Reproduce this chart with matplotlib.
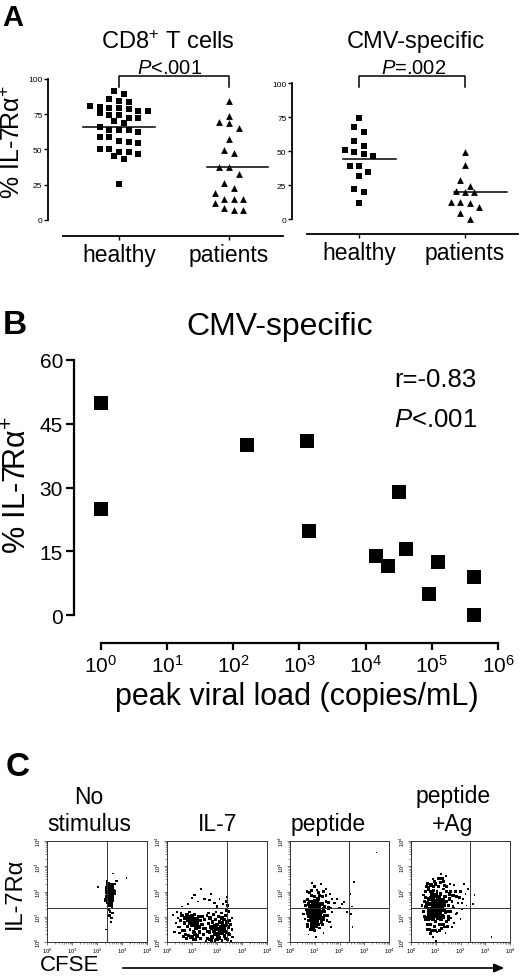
import numpy as np
import matplotlib
matplotlib.use("Agg")
import matplotlib.pyplot as plt
from matplotlib.ticker import LogFormatterMathtext, LogLocator, NullFormatter, FixedLocator

plt.rcParams['font.family'] = ['Liberation Sans', 'DejaVu Sans']
plt.rcParams['mathtext.fontset'] = 'custom'
plt.rcParams['mathtext.rm'] = 'Liberation Sans'
plt.rcParams['mathtext.it'] = 'Liberation Sans:italic'
plt.rcParams['mathtext.bf'] = 'Liberation Sans:bold'
plt.rcParams['mathtext.default'] = 'regular'

# ------------------------------------------------------------------ data
groups = ["healthy", "patients"]
a_yticks = [0, 25, 50, 75, 100]

cd8_healthy = [91.7, 89.4, 85.6, 84.6, 83.7, 80.4, 79.4, 79.4, 80.9, 77.5, 78.5,
               75.7, 74.7, 72.0, 77.0, 74.5, 72.3, 70.4, 68.8, 64.0, 64.0, 65.8,
               64.0, 62.2, 59.1, 54.8, 56.2, 58.6, 55.1, 50.4, 48.2, 50.1, 46.5,
               48.2, 45.6, 43.3, 25.5]
cd8_patients = [84.1, 73.9, 69.2, 68.7, 64.9, 57.8, 47.6, 49.5, 37.4, 37.4, 32.9,
                26.0, 22.5, 19.4, 15.2, 15.2, 15.2, 11.8, 8.5, 7.3, 7.3]
cd8_medians = [66.2, 37.9]
cd8_p = "$\\mathit{P}$<.001"

cmv_healthy = [74.2, 68.0, 63.9, 57.0, 54.0, 50.9, 49.6, 47.7, 46.7, 39.3, 38.8,
               34.9, 31.9, 22.1, 19.7, 11.8]
cmv_patients = [49.6, 39.8, 28.7, 24.6, 20.4, 20.1, 20.1, 12.8, 11.8, 12.3, 8.6,
                4.4, 0.0]
cmv_medians = [44.2, 20.1]
cmv_p = "$\\mathit{P}$=.002"

viral_load = [1, 1, 163, 1318, 1410, 14100, 21900, 32000, 40500, 92000, 125000,
              428000, 428000]
il7ra_cmv = [49.9, 24.9, 40.0, 40.9, 19.8, 14.0, 11.6, 29.0, 15.5, 4.9, 12.4,
             9.0, 0.0]
b_yticks = [0, 15, 30, 45, 60]
b_xticks = [1e0, 1e1, 1e2, 1e3, 1e4, 1e5, 1e6]
b_stats = ["r=-0.83", "$\\mathit{P}$<.001"]

# panel C: events (log10 units: CFSE, IL-7Ra)
c_titles = ["No\nstimulus", "IL-7", "peptide", "peptide\n+Ag"]
c_gate_cfse = 2.4
c_gate_il7 = 1.34
c_nostim_x = [2.45, 2.55, 2.50, 2.60, 2.42, 2.52, 2.58, 2.47, 2.55, 2.62, 2.40, 2.50,
              2.57, 2.45, 2.53, 2.60, 2.48, 2.56, 2.42, 2.52, 2.46, 2.58, 2.50, 2.44,
              2.55, 2.48, 2.60, 2.45, 2.52, 2.62, 2.50, 2.58, 2.55, 2.35, 2.05, 2.65,
              3.18, 2.78, 2.70, 2.40, 2.68, 2.38, 2.50, 2.53, 2.47, 2.57, 2.51, 2.49]
c_nostim_y = [2.30, 2.25, 2.20, 2.18, 2.12, 2.10, 2.08, 2.05, 2.02, 2.00, 1.98, 1.95,
              1.92, 1.90, 1.88, 1.86, 1.82, 1.80, 1.78, 1.75, 1.70, 1.68, 1.62, 1.58,
              1.52, 1.45, 1.40, 1.30, 1.22, 1.15, 1.05, 0.95, 0.80, 0.50, 2.17, 2.72,
              2.53, 2.43, 2.30, 2.40, 1.95, 1.65, 1.97, 2.06, 1.85, 1.99, 1.91, 2.15]
c_il7_x = [0.35, 0.45, 0.50, 0.55, 0.60, 0.62, 0.70, 0.72, 0.75, 0.80, 0.82, 0.85,
           0.88, 0.90, 0.92, 0.95, 0.97, 1.00, 1.00, 1.02, 1.05, 1.08, 1.10, 1.12,
           1.15, 1.18, 1.20, 1.22, 1.25, 1.28, 1.30, 1.32,
           1.40, 1.45, 1.50, 1.55, 1.60, 1.62, 1.65, 1.70, 1.72, 1.75, 1.80, 1.82,
           1.85, 1.88, 1.90, 1.92, 1.95, 1.98, 2.00, 2.02, 2.05, 2.08, 2.10, 2.12,
           2.15, 2.18, 2.20, 2.22, 2.25, 2.28, 2.30, 2.32, 2.35, 2.38, 2.40, 2.42,
           2.45, 2.48, 2.50, 2.55, 2.60, 2.62,
           2.40, 2.42, 2.38, 2.41, 2.39,
           1.00, 1.10, 1.25, 1.35, 1.50, 1.70, 1.75, 1.90, 2.10, 2.25, 0.85, 0.60,
           2.00, 0.40, 0.30, 0.25, 0.95, 1.05, 0.78, 1.15, 2.2, 2.05, 1.78, 1.95,
           0.50, 0.65, 0.85, 1.00, 1.15, 1.35, 1.45, 1.55, 1.70, 1.80, 1.90, 2.00,
           2.10, 2.30, 2.45, 2.55, 2.50, 2.20, 1.95, 1.65, 1.40, 1.10, 0.70, 0.55,
           0.90, 2.60, 2.35, 1.60, 1.25, 0.45]
c_il7_y = [0.75, 0.95, 0.60, 0.85, 1.05, 0.45, 0.75, 0.95, 0.30, 1.10, 0.60, 0.85,
           0.98, 0.75, 0.50, 0.90, 1.05, 0.80, 0.65, 0.95, 0.40, 0.85, 1.10, 0.70,
           0.55, 0.90, 0.25, 0.75, 1.00, 0.60, 0.40, 0.85,
           0.70, 0.30, 0.90, 0.55, 1.05, 0.15, 0.75, 0.40, 0.95, 0.60, 0.20, 0.80,
           1.10, 0.45, 0.65, 0.05, 0.90, 0.30, 0.70, 0.50, 1.00, 0.15, 0.80, 0.35,
           0.60, 1.15, 0.05, 0.75, 0.45, 0.90, 0.25, 0.65, 1.05, 0.40, 0.80, 0.10,
           0.60, 1.20, 0.30, 0.70, 0.50, 0.20,
           1.30, 1.45, 1.60, 1.80, 1.25,
           1.75, 1.85, 1.60, 2.10, 1.70, 1.65, 1.90, 1.55, 1.70, 1.50, 1.50, 1.40,
           1.40, 1.20, 0.40, 1.05, 0.20, 0.10, 0.15, 0.30, 0.35, 0.25, 0.05, 0.55,
           0.35, 0.20, 0.25, 0.20, 0.10, 0.15, 0.55, 0.05, 0.10, 0.55, 0.35, 0.10,
           0.45, 0.55, 0.35, 0.05, 0.85, 0.95, 1.20, 1.15, 1.00, 0.35, 0.45, 1.15,
           1.20, 0.95, 0.15, 0.40, 0.85, 0.60]
c_pep_x = [0.85, 0.90, 0.95, 1.00, 1.00, 1.05, 1.05, 1.10, 0.90, 0.95, 1.10, 1.15,
           0.80, 0.88, 1.20, 1.00, 0.92, 1.08, 1.12, 0.98, 1.20, 1.25, 0.75, 0.78,
           0.65, 0.60, 0.70, 0.72, 0.68, 0.85, 1.00, 1.15, 1.30, 1.35, 1.40, 1.30,
           1.20, 1.00, 0.85, 0.75, 1.45, 1.55, 1.60, 1.70, 1.50, 1.80, 1.90, 2.00,
           2.10, 2.20, 1.65, 1.45, 1.25, 0.90, 0.55, 0.60, 1.05, 1.35, 2.30,
           0.93, 1.03, 0.83, 1.13, 0.97, 1.07, 0.87, 1.17, 1.02, 0.94,
           0.72, 0.80, 0.85, 0.95, 1.05, 1.15, 1.25, 1.30, 1.35, 1.40, 1.50, 1.55,
           1.60, 1.45, 1.20, 0.70, 0.75, 0.82, 1.18, 1.28, 1.10, 0.90, 1.00, 1.40,
           1.65, 0.62, 0.80, 1.10, 1.35, 1.70,
           2.45, 2.58, 3.50, 2.52, 2.45, 2.50]
c_pep_y = [1.00, 1.20, 0.90, 1.10, 1.30, 1.00, 1.45, 1.20, 1.40, 1.60, 0.85, 1.35,
           1.25, 0.80, 1.10, 0.75, 1.05, 1.55, 1.70, 1.80, 1.50, 0.95, 1.50, 1.05,
           1.30, 0.90, 0.70, 1.70, 2.00, 2.05, 2.20, 1.95, 1.80, 1.30, 1.05, 0.70,
           0.55, 0.45, 0.50, 0.30, 1.60, 1.35, 1.90, 1.20, 0.85, 1.55, 1.70, 1.35,
           1.50, 1.60, 0.60, 2.10, 2.30, 2.35, 1.10, 1.60, 0.20, 0.35, 1.20,
           1.15, 1.25, 1.15, 1.05, 1.35, 0.95, 0.95, 1.25, 1.65, 0.65,
           0.60, 1.60, 1.85, 0.55, 0.65, 0.70, 1.20, 1.50, 0.90, 1.40, 1.05, 1.55,
           0.80, 1.85, 1.85, 1.15, 0.85, 1.40, 0.95, 0.80, 1.45, 0.65, 1.50, 1.20,
           1.35, 1.45, 1.95, 2.05, 2.00, 1.70,
           1.90, 2.37, 3.55, 0.60, 1.12, 1.40]
c_pag_x = [0.70, 0.75, 0.72, 0.80, 0.80, 0.82, 0.85, 0.88, 0.90, 0.90, 0.92, 0.95,
           0.95, 0.97, 1.00, 1.00, 1.02, 1.05, 1.05, 1.08, 1.10, 1.12, 1.15, 1.15,
           1.18, 1.20, 1.22, 1.25, 1.28, 1.30, 1.32, 1.35, 1.38, 0.78, 0.85, 0.93,
           1.03, 1.10, 1.17, 1.27, 0.88, 0.98, 1.07, 1.20, 0.76, 0.83,
           0.86, 0.96, 1.06, 1.16, 1.26, 0.91, 1.01, 1.11, 0.81, 1.21, 0.74, 1.33,
           0.50, 0.55, 0.60, 0.60, 0.65, 0.68, 0.80, 0.90, 0.95, 1.10, 1.05, 1.25,
           1.30, 1.45, 1.45, 1.50, 1.55, 1.60, 1.60, 1.70, 1.75, 1.80, 1.85, 1.90,
           2.00, 2.05, 2.10, 2.20, 2.25, 2.30, 1.40, 1.20, 0.50, 0.45, 1.65, 1.40,
           2.00, 2.15, 1.00, 0.62, 1.52, 1.75, 1.35, 0.70,
           0.55, 0.58, 0.60, 0.62, 0.66, 0.70, 0.70, 0.75, 0.80, 0.85, 0.90, 1.00,
           1.00, 1.10, 1.15, 1.20, 1.30, 1.35, 1.40, 1.42, 1.45, 1.50, 1.50, 1.55,
           1.60, 1.65, 1.70, 1.75, 1.80, 1.85, 1.95, 2.05, 0.65, 0.68, 1.48, 1.25,
           0.90, 1.58,
           2.57, 3.25, 2.50]
c_pag_y = [0.90, 1.30, 1.70, 0.70, 1.10, 1.50, 1.90, 0.90, 1.30, 1.65, 2.05, 0.60,
           1.05, 1.45, 1.85, 0.80, 1.20, 1.60, 2.00, 0.95, 1.35, 1.75, 0.70, 1.10,
           1.50, 1.90, 0.90, 1.30, 1.65, 2.10, 1.00, 1.45, 1.80, 2.00, 1.25, 1.80,
           1.40, 1.00, 1.30, 1.55, 1.55, 1.15, 1.78, 1.60, 1.50, 0.95,
           1.05, 1.25, 1.15, 1.60, 1.05, 1.45, 1.55, 1.55, 1.75, 1.25, 1.10, 1.25,
           1.20, 1.60, 0.90, 2.00, 0.50, 2.30, 0.35, 0.20, 2.40, 2.50, 0.40, 0.55,
           2.40, 0.80, 2.20, 1.20, 1.70, 2.00, 0.95, 1.40, 2.25, 1.10, 1.80, 1.55,
           2.00, 1.30, 1.70, 1.90, 1.45, 2.10, 2.60, 2.70, 1.85, 1.45, 0.60, 0.35,
           0.90, 2.30, 0.05, 1.40, 1.00, 0.75, 0.60, 2.15,
           1.00, 1.40, 1.75, 2.20, 0.70, 1.20, 2.10, 0.50, 2.25, 0.45, 2.20, 2.30,
           0.45, 2.20, 0.45, 2.35, 0.70, 2.25, 1.20, 1.60, 2.00, 0.90, 1.45, 1.90,
           1.20, 1.60, 1.85, 1.35, 2.00, 1.15, 1.75, 1.55, 1.55, 0.95, 0.60, 2.50,
           2.50, 2.30,
           1.85, 0.20, 1.50]
c_x = [c_nostim_x, c_il7_x, c_pep_x, c_pag_x]
c_y = [c_nostim_y, c_il7_y, c_pep_y, c_pag_y]

# ------------------------------------------------------------------ helpers
W, H = 520, 979
fig = plt.figure(figsize=(W / 100, H / 100), dpi=100)


def add_ax(x0, y0, x1, y1):
    return fig.add_axes([x0 / W, 1 - y1 / H, (x1 - x0) / W, (y1 - y0) / H])


def ftext(x, y, s, **kw):
    kw.setdefault('ha', 'center')
    kw.setdefault('va', 'center')
    return fig.text(x / W, 1 - y / H, s, **kw)


def swarm(values, bin_w, spacing):
    values = np.asarray(values, float)
    order = np.argsort(-values, kind='stable')
    offsets = np.zeros(len(values))
    rows, cur, start = [], [], None
    for i in order:
        if cur and start - values[i] > bin_w:
            rows.append(cur)
            cur = []
        if not cur:
            start = values[i]
        cur.append(i)
    rows.append(cur)
    for r in rows:
        n = len(r)
        for k, i in enumerate(r):
            offsets[i] = (k - (n - 1) / 2) * spacing
    return offsets


def density_sizes(xs, ys, radius=0.22):
    p = np.column_stack([xs, ys])
    d = np.sqrt(((p[:, None, :] - p[None, :, :]) ** 2).sum(-1))
    cnt = (d < radius).sum(1) - 1
    return np.clip(1.3 + 0.8 * cnt, 1.3, 12)


LW = 1.3


def panel_a(box, xlim, xbounds, ybottom, h_vals, p_vals, medians, med_half, p_text,
            bracket, p_x):
    ax = add_ax(*box)
    ax.set_xlim(*xlim)
    ax.set_ylim(ybottom, 100)
    for s in ('top', 'right'):
        ax.spines[s].set_visible(False)
    ax.spines['left'].set_bounds(0, 100)
    ax.spines['bottom'].set_bounds(*xbounds)
    ax.spines['left'].set_linewidth(LW)
    ax.spines['bottom'].set_linewidth(LW)
    ax.set_yticks(a_yticks)
    ax.set_xticks([0, 1])
    ax.set_xticklabels(groups, fontsize=16.5)
    ax.tick_params(axis='y', labelsize=6, length=3, width=1.0, pad=1)
    ax.tick_params(axis='x', length=3, width=1.0, pad=2)
    hx = swarm(h_vals, 4.6, 0.087)
    px = swarm(p_vals, 4.6, 0.087)
    ax.scatter(0 + hx, h_vals, marker='s', s=17, color='black', linewidths=0,
               clip_on=False, zorder=3)
    ax.scatter(1 + px, p_vals, marker='^', s=24, color='black', linewidths=0,
               clip_on=False, zorder=3)
    for i, m in enumerate(medians):
        ax.plot([i - med_half[i][0], i + med_half[i][1]], [m, m], color='black',
                lw=1.1, zorder=4)
    top, low, ptxt = bracket
    ax.plot([0, 0, 1, 1], [low, top, top, low], color='black', lw=1.1,
            clip_on=False)
    ax.text(p_x, ptxt, p_text, ha='center', va='center', fontsize=14.5,
            clip_on=False)
    return ax


# ------------------------------------------------------------------ panel A
ftext(13, 18, "A", fontsize=21, fontweight='bold')
panel_a((48, 80, 283, 237), (-0.645, 1.49), (-0.51, 1.49), -11.35,
        cd8_healthy, cd8_patients, cd8_medians, [(0.33, 0.33), (0.2, 0.35)],
        cd8_p, (102.1, 94.3, 108.5), 0.46)
ftext(168, 43, "CD8$^{+}$ T cells", fontsize=17)
ftext(13, 142, "% IL-7Rα$^{+}$", fontsize=18, rotation=90)

panel_a((292, 84, 518, 235), (-0.632, 1.5), (-0.49, 1.5), -11.0,
        cmv_healthy, cmv_patients, cmv_medians, [(0.15, 0.35), (0.1, 0.4)],
        cmv_p, (105.1, 97.0, 111.5), 0.52)
ftext(416, 42, "CMV-specific", fontsize=17)

# ------------------------------------------------------------------ panel B
ftext(15, 325, "B", fontsize=24, fontweight='bold')
ftext(280, 327, "CMV-specific", fontsize=23)
axb = add_ax(74, 361, 498, 644)
axb.set_xscale('log')
axb.set_xlim(10 ** (-27 / 66.2), 1e6)
axb.set_ylim(-28 / 4.25, 60)
for s in ('top', 'right'):
    axb.spines[s].set_visible(False)
axb.spines['left'].set_bounds(0, 60)
axb.spines['bottom'].set_bounds(1, 1e6)
axb.spines['left'].set_linewidth(1.6)
axb.spines['bottom'].set_linewidth(1.6)
axb.set_yticks(b_yticks)
axb.xaxis.set_major_locator(FixedLocator(b_xticks))
axb.xaxis.set_major_formatter(LogFormatterMathtext())
axb.xaxis.set_minor_locator(FixedLocator([]))
axb.tick_params(axis='y', labelsize=15, length=6, width=1.6, pad=2)
axb.tick_params(axis='x', labelsize=15, length=5, width=1.6, pad=3)
axb.scatter(viral_load, il7ra_cmv, marker='s', s=90, color='black',
            linewidths=0, clip_on=False, zorder=3)
ftext(477, 380, b_stats[0], fontsize=18.5, ha='right')
ftext(477, 420, b_stats[1], fontsize=18.5, ha='right')
ftext(18, 485, "% IL-7Rα$^{+}$", fontsize=22, rotation=90)
ftext(297, 697, "peak viral load (copies/mL)", fontsize=22)

# ------------------------------------------------------------------ panel C
ftext(18, 768, "C", fontsize=24, fontweight='bold')
c_boxes = [(47, 842, 147, 943), (167, 842, 267, 943),
           (290, 842, 389, 943), (411, 842, 510, 943)]
c_title_x = [89, 218, 328, 453]
for k, box in enumerate(c_boxes):
    ax = add_ax(*box)
    ax.set_xscale('log')
    ax.set_yscale('log')
    ax.set_xlim(1, 1e4)
    ax.set_ylim(1, 1e4)
    for s in ax.spines.values():
        s.set_linewidth(0.7)
        s.set_color('#333333')
    ax.xaxis.set_major_locator(LogLocator(base=10, numticks=5))
    ax.yaxis.set_major_locator(LogLocator(base=10, numticks=5))
    ax.xaxis.set_minor_locator(LogLocator(base=10, subs=np.arange(2, 10), numticks=5))
    ax.yaxis.set_minor_locator(LogLocator(base=10, subs=np.arange(2, 10), numticks=5))
    ax.xaxis.set_major_formatter(LogFormatterMathtext())
    ax.yaxis.set_major_formatter(LogFormatterMathtext())
    ax.xaxis.set_minor_formatter(NullFormatter())
    ax.yaxis.set_minor_formatter(NullFormatter())
    ax.tick_params(which='major', labelsize=4.2, length=2, width=0.5, pad=0.8,
                   color='#444444')
    ax.tick_params(which='minor', length=1.2, width=0.4, color='#444444')
    for lab in ax.get_yticklabels():
        lab.set_rotation(90)
        lab.set_va('center')
    ax.axvline(10 ** c_gate_cfse, color='#333333', lw=0.7)
    ax.axhline(10 ** c_gate_il7, color='#333333', lw=0.7)
    xs = np.asarray(c_x[k])
    ys = np.asarray(c_y[k])
    ax.scatter(10 ** xs, 10 ** ys, s=density_sizes(xs, ys),
               marker='s', color='black', linewidths=0)
    title = c_titles[k]
    if '\n' in title:
        l1, l2 = title.split('\n')
        ftext(c_title_x[k], 797, l1, fontsize=16.5)
        ftext(c_title_x[k], 825, l2, fontsize=16.5)
    else:
        ftext(c_title_x[k], 825, title, fontsize=16.5)

ftext(15, 893, "IL-7Rα", fontsize=17, rotation=90)
ftext(70, 966, "CFSE", fontsize=16)
fig.add_artist(matplotlib.patches.FancyArrowPatch(
    (120 / W, 1 - 969 / H), (507 / W, 1 - 969 / H), transform=fig.transFigure,
    arrowstyle='-|>,head_length=6,head_width=2.6', color='black', lw=1.2,
    mutation_scale=1))

fig.savefig("out.png", dpi=100)
